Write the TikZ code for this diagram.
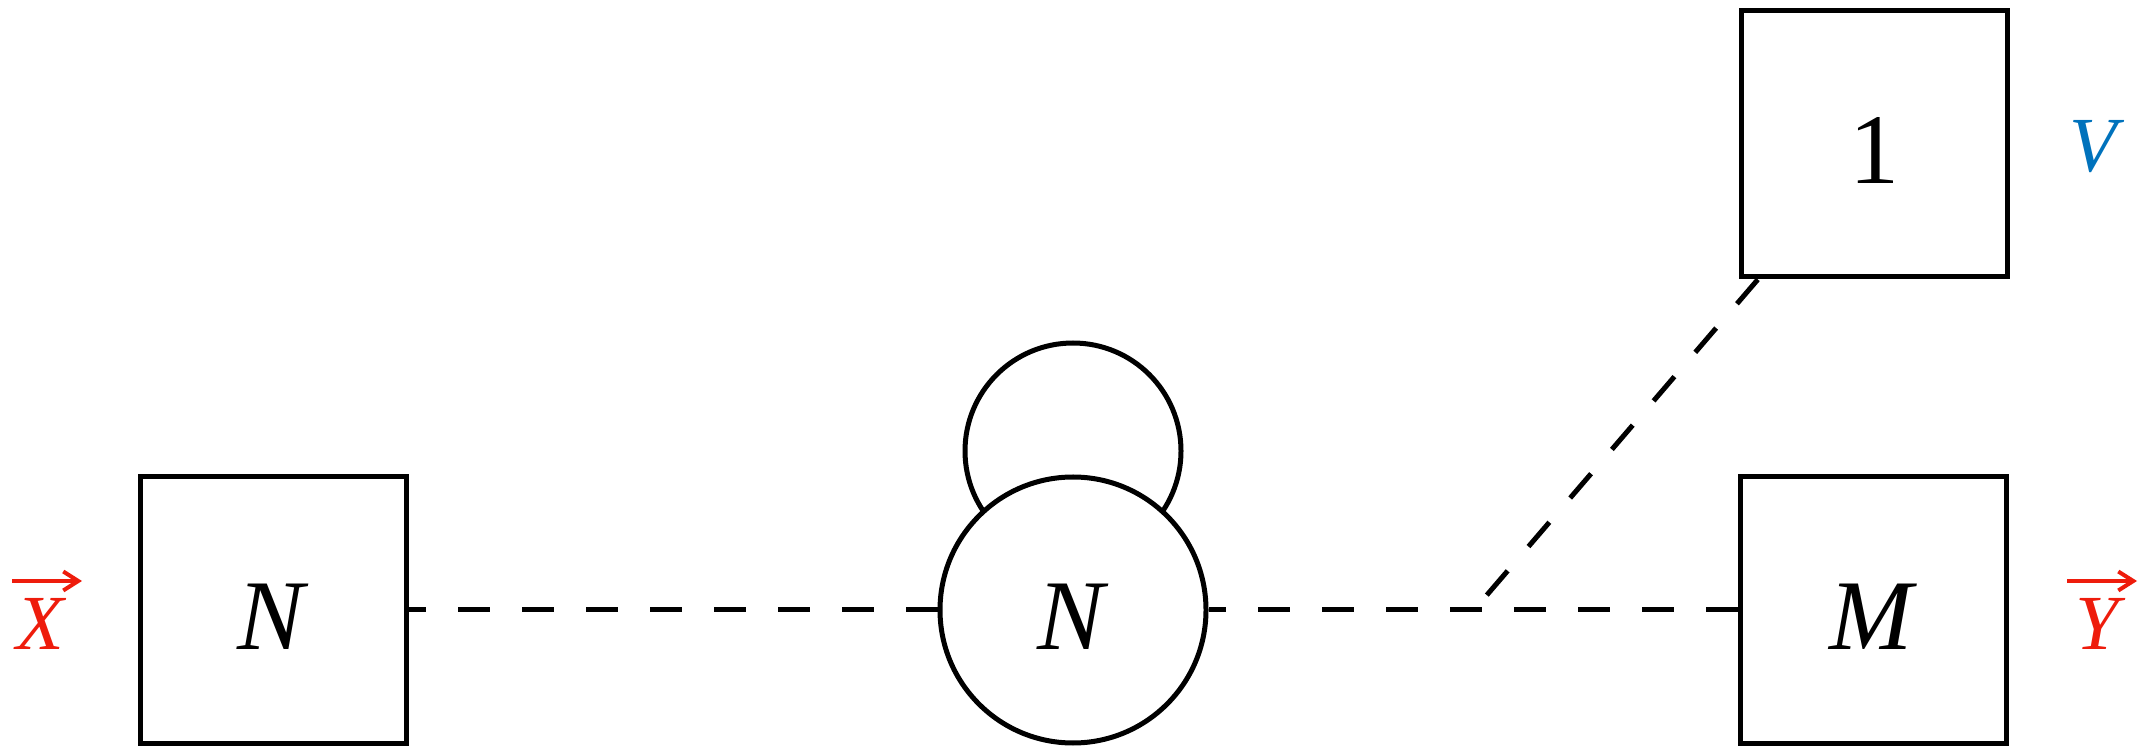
\documentclass[tikz,border=0pt]{standalone}
\usepackage{fontspec}
\setmainfont{Liberation Serif}
\usetikzlibrary{arrows.meta}
\definecolor{lblred}{RGB}{238,28,12}
\definecolor{lblblue}{RGB}{0,114,188}
\begin{document}
\begin{tikzpicture}[x=0.5pt,y=-0.5pt,line width=2.5pt,
  sq/.style={draw,rectangle,minimum size=133pt,inner sep=0pt,font=\fontsize{50}{60}\selectfont,text height=40pt,text depth=0pt},
  rd/.style={draw,circle,fill=white,minimum size=133pt,inner sep=0pt,font=\fontsize{50}{60}\selectfont,text height=40pt,text depth=0pt},
  conn/.style={dash pattern=on 16pt off 16pt},
  lbl/.style={font=\fontsize{39}{47}\selectfont,inner sep=0pt,anchor=base},
  vec/.style={line width=2pt,-{Straight Barb[length=7.5pt,width=9.5pt]}}]
\path[use as bounding box] (0,0) rectangle (2140,747);
\coordinate (lc) at (1073,451);
\draw (lc) circle[radius=54pt];
\node[sq] (a) at (273,610) {\textit{N}};
\node[rd] (c) at (1073,610) {\textit{N}};
\node[sq] (m) at (1873,610) {\textit{M}};
\node[sq] (one) at (1874,144) {1};
\coordinate (j) at (1474,610);
\draw[conn] (c) -- (a);
\draw[conn] (m) -- (c);
\draw[conn] (one) -- (j);
\node[lbl,text=lblred] (x) at (42,650) {\textit{X}};
\coordinate (xa) at (12,581);
\coordinate (xb) at (82,581);
\draw[vec,lblred] (xa) -- (xb);
\node[lbl,text=lblred] (y) at (2101,650) {\textit{Y}};
\coordinate (ya) at (2067,581);
\coordinate (yb) at (2137,581);
\draw[vec,lblred] (ya) -- (yb);
\node[lbl,text=lblblue] (v) at (2097,172) {\textit{V}};
\end{tikzpicture}
\end{document}
